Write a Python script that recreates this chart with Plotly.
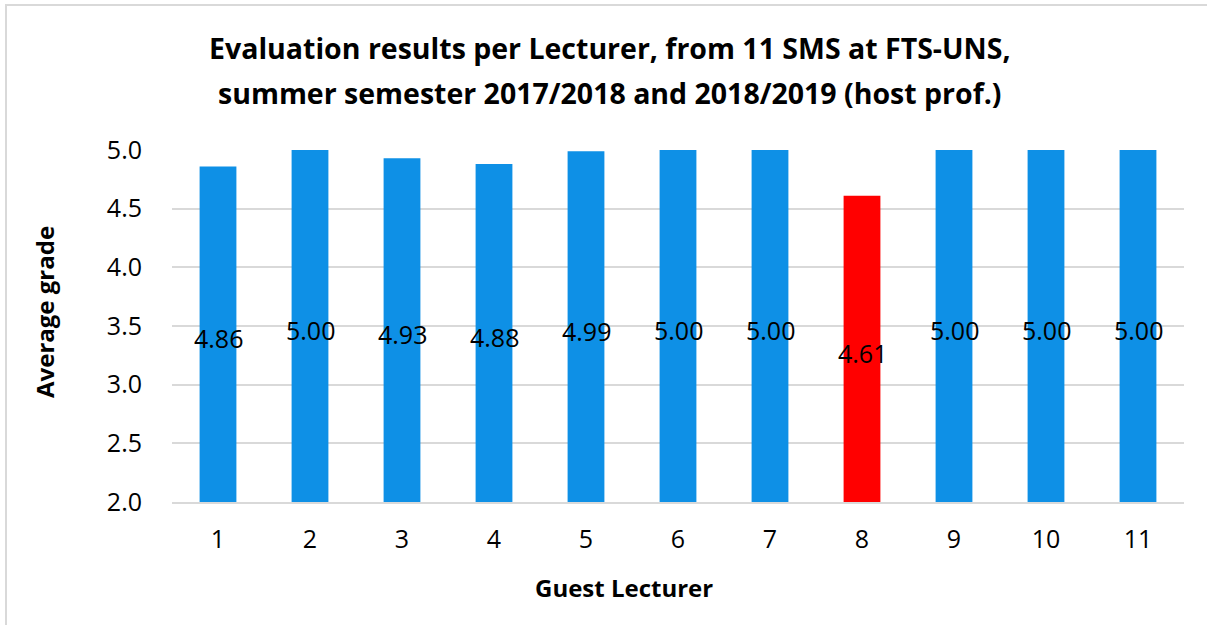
import plotly.graph_objects as go

lecturers = ["1", "2", "3", "4", "5", "6", "7", "8", "9", "10", "11"]
grades = [4.86, 5.00, 4.93, 4.88, 4.99, 5.00, 5.00, 4.61, 5.00, 5.00, 5.00]
bar_colors = ["#0E90E6"] * 7 + ["#FF0000"] + ["#0E90E6"] * 3
y_min = 2.0
title_lines = [
    "Evaluation results per Lecturer, from 11 SMS at FTS-UNS,",
    "summer semester 2017/2018 and 2018/2019 (host prof.)",
]
x_title = "Guest Lecturer"
y_title = "Average grade"

FONT = "Open Sans"
W, H = 1207, 625
L, R, T, B = 172, 1184, 150, 502  # plot area in page pixels


def px_x(px):
    return (px - L) / (R - L)


def px_y(py):
    return (B - py) / (B - T)


fig = go.Figure()
fig.add_trace(go.Bar(
    x=lecturers, y=[g - y_min for g in grades], base=y_min,
    marker=dict(color=bar_colors, line=dict(width=0)),
    hoverinfo="skip", showlegend=False,
))

# value labels, centred in each bar (category index on the category axis)
annotations = [
    dict(text=f"{g:.2f}", x=i, y=(g + y_min) / 2, xref="x", yref="y",
         xanchor="center", yanchor="middle", showarrow=False, yshift=-4,
         font=dict(family=FONT, size=25, color="#000000"))
    for i, g in enumerate(grades)
]
annotations += [
    dict(text=f"<b>{title_lines[0]}</b>", x=px_x(610), y=px_y(48), xref="paper", yref="paper",
         xanchor="center", yanchor="middle", showarrow=False,
         font=dict(family=FONT, size=28.5, color="#000000")),
    dict(text=f"<b>{title_lines[1]}</b>", x=px_x(610), y=px_y(93), xref="paper", yref="paper",
         xanchor="center", yanchor="middle", showarrow=False,
         font=dict(family=FONT, size=28.5, color="#000000")),
    dict(text=f"<b>{x_title}</b>", x=px_x(624), y=px_y(587), xref="paper", yref="paper",
         xanchor="center", yanchor="middle", showarrow=False,
         font=dict(family=FONT, size=24, color="#000000")),
    dict(text=f"<b>{y_title}</b>", x=px_x(44), y=px_y(312), xref="paper", yref="paper",
         xanchor="center", yanchor="middle", showarrow=False, textangle=-90,
         font=dict(family=FONT, size=24, color="#000000")),
]

fig.update_layout(
    width=W, height=H,
    margin=dict(l=L, r=W - R, t=T, b=H - B, autoexpand=False),
    paper_bgcolor="white", plot_bgcolor="white",
    bargap=0.6,
    xaxis=dict(
        type="category", automargin=False,
        showgrid=False, showline=True, linecolor="#D9D9D9", linewidth=2,
        ticks="", tickfont=dict(family=FONT, size=25, color="#000000"),
        ticklabelstandoff=14,
    ),
    yaxis=dict(
        range=[2.0, 5.0], dtick=0.5, tickformat=".1f", automargin=False,
        showgrid=True, gridcolor="#D9D9D9", gridwidth=2,
        zeroline=False, showline=False, ticks="",
        tickfont=dict(family=FONT, size=25, color="#000000"),
        ticklabelstandoff=29,
    ),
    annotations=annotations,
    shapes=[dict(
        type="rect", xref="paper", yref="paper",
        x0=px_x(6), x1=px_x(1215),
        y0=px_y(640), y1=px_y(5),
        line=dict(color="#D9D9D9", width=2), fillcolor="rgba(0,0,0,0)", layer="below",
    )],
)

fig.write_html(
    "out.html",
    config={"displayModeBar": False},
    post_script="document.body.style.margin='0';document.body.style.overflow='hidden';",
)
